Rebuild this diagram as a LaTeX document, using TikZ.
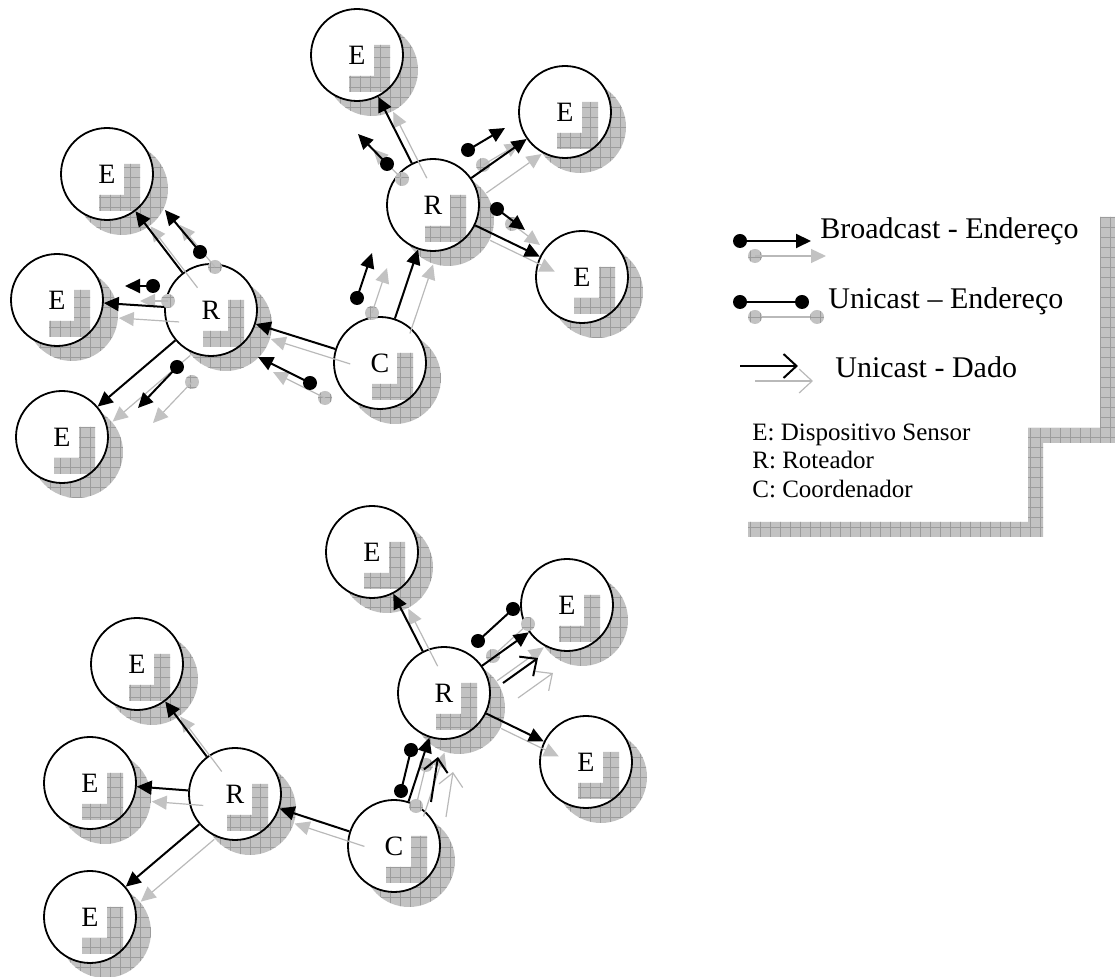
\documentclass[tikz,border=0pt]{standalone}
\usepackage{fontspec}
\setmainfont{Liberation Serif}
\usetikzlibrary{arrows.meta,backgrounds,patterns.meta}
\tikzset{>={Triangle[length=7.5pt,width=7pt]}}
\colorlet{meshgray}{gray!48}
\colorlet{meshline}{gray!78}
\colorlet{ghostgray}{gray!55}
\tikzset{
  mesh/.style={fill=meshgray,
    postaction={pattern={Hatch[distance=5pt,line width=0.3pt]},pattern color=meshline}},
  dev/.style={circle,draw,line width=0.9pt,fill=white,minimum size=46pt,
    inner sep=0pt,font=\fontsize{14}{16}\selectfont,
    path picture={\fill[mesh] (path picture bounding box.center)
      ++(8.5pt,5pt) -- ++(8pt,0pt) -- ++(0pt,-23.5pt) -- ++(-20.5pt,0pt)
      -- ++(0pt,8pt) -- ++(12.5pt,0pt) -- cycle;}},
  ink/.style={line width=1pt,->},
  inkdata/.style={line width=1pt,-{Straight Barb[length=6.5pt,width=12pt]}},
  inkdot/.style={fill=black},
  ghost/.style={draw=ghostgray,line width=0.6pt,
    -{Triangle[length=7.5pt,width=7pt,color=meshgray]}},
  ghostdata/.style={draw=ghostgray,line width=0.6pt,
    -{Straight Barb[length=6.5pt,width=12pt]}},
  ghostdot/.style={mesh},
  lifted/.style={transform canvas={shift={(7.5pt,-7.5pt)}}},
  keytext/.style={anchor=base west,inner sep=0pt,font=\fontsize{15}{17}\selectfont},
  small/.style={anchor=base west,inner sep=0pt,font=\fontsize{12.5}{15}\selectfont}
}
% dot + arrow, dot + dot ; #1 is ink or ghost
\newcommand*{\bcast}[3]{\fill[#1dot] (#2) circle (3.5pt); \draw[#1] (#2) -- (#3);}
\newcommand*{\ucast}[3]{\draw[#1,-] (#2) -- (#3);
  \fill[#1dot] (#2) circle (3.5pt); \fill[#1dot] (#3) circle (3.5pt);}
% all messages of both networks
\newcommand*{\traffic}[1]{%
  \foreach \a/\b in {C1/R1,C1/R2,R1/E1,R1/E2,R1/E3,R2/E4,R2/E5,R2/E6,
                     C2/R3,C2/R4,R3/E7,R3/E8,R3/E9,R4/E10,R4/E11,R4/E12}
    \draw[#1] (\a) -- (\b);
  \foreach \s/\t in {{357,298}/{372,253},{310,383}/{258,357},{200,252}/{165,210},
                     {153,286}/{125,286},{177,367}/{138,408},{387,164}/{358,134},
                     {468,150}/{505,128},{497,209}/{525,230}}
    {\bcast{#1}{\s}{\t}}
  \ucast{#1}{401,791}{411,750}
  \ucast{#1}{478,641}{513,609}
  \draw[#1data] (431,802) -- (438,757);
  \draw[#1data] (503,683) -- (538,658);
}

\begin{document}
\begin{tikzpicture}[x=0.5pt,y=-0.5pt]
\useasboundingbox (0,0) rectangle (1115,977);

% upper network
\node[dev] (C1) at (380,363) {C};
\node[dev] (R1) at (211,310) {R};
\node[dev] (R2) at (433,205) {R};
\node[dev] (E1) at (107,174) {E};
\node[dev] (E2) at (57,300) {E};
\node[dev] (E3) at (62,437) {E};
\node[dev] (E4) at (357,55) {E};
\node[dev] (E5) at (565,112) {E};
\node[dev] (E6) at (582,277) {E};

% lower network
\node[dev] (C2) at (394,846) {C};
\node[dev] (R3) at (235,794) {R};
\node[dev] (R4) at (444,693) {R};
\node[dev] (E7) at (137,664) {E};
\node[dev] (E8) at (90,783) {E};
\node[dev] (E9) at (90,917) {E};
\node[dev] (E10) at (372,552) {E};
\node[dev] (E11) at (567,605) {E};
\node[dev] (E12) at (586,762) {E};

\begin{scope}[on background layer]
  \foreach \n in {C1,R1,R2,E1,E2,E3,E4,E5,E6,C2,R3,R4,E7,E8,E9,E10,E11,E12}
    \fill[mesh] ([shift={(7.5pt,-7.5pt)}]\n.center) circle (23pt);
\end{scope}

\begin{scope}[lifted]
  \traffic{ghost}
\end{scope}
\traffic{ink}

% key
\fill[mesh] (1100,217) -- (1115,217) -- (1115,443) -- (1043,443) -- (1043,537)
  -- (748,537) -- (748,522) -- (1028,522) -- (1028,428) -- (1100,428) -- cycle;
\bcast{ghost}{755,256}{826,256}
\bcast{ink}{740,241}{811,241}
\ucast{ghost}{755,317}{817,317}
\ucast{ink}{740,302}{802,302}
\draw[ghostdata] (755,381) -- (813,381);
\draw[inkdata] (740,366) -- (798,366);
\node[keytext] (kb) at (820,239) {Broadcast - Endereço};
\node[keytext] (ku) at (828,309) {Unicast – Endereço};
\node[keytext] (kd) at (835,378) {Unicast - Dado};
\node[small] (ke) at (752,441) {E: Dispositivo Sensor};
\node[small] (kr) at (752,469) {R: Roteador};
\node[small] (kc) at (752,498) {C: Coordenador};
\end{tikzpicture}
\end{document}
